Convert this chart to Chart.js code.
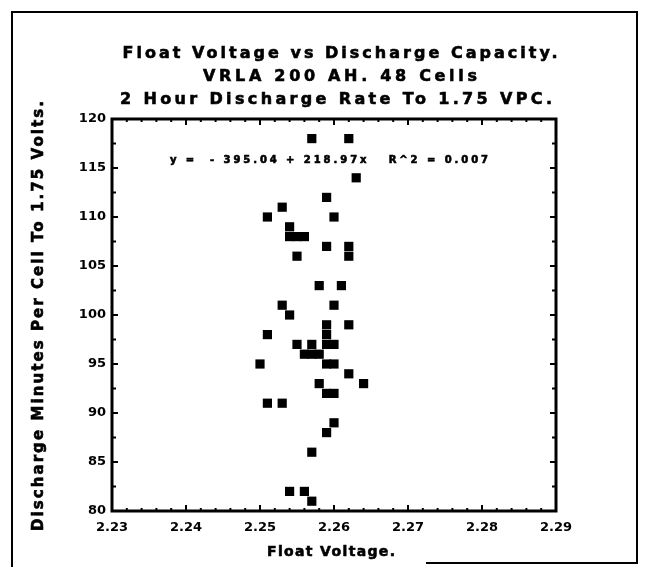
<!DOCTYPE html>
<html>
<head>
<meta charset="utf-8">
<script src="https://cdn.jsdelivr.net/npm/chart.js@4.4.1/dist/chart.umd.min.js"></script>
<style>
  html, body { margin: 0; padding: 0; background: #fff; }
  #wrap { width: 649px; height: 567px; }
</style>
</head>
<body>
<div id="wrap"><canvas id="myChart" width="649" height="567"></canvas></div>
<script>
// Dados
const floatVoltage = [
  2.257, 2.262, 2.263, 2.259, 2.253, 2.251, 2.260, 2.254, 2.254, 2.255,
  2.256, 2.259, 2.262, 2.262, 2.255, 2.258, 2.261, 2.253, 2.260, 2.254,
  2.259, 2.262, 2.251, 2.259, 2.255, 2.257, 2.259, 2.260, 2.256, 2.257,
  2.258, 2.250, 2.259, 2.260, 2.262, 2.258, 2.264, 2.259, 2.260, 2.251,
  2.253, 2.260, 2.259, 2.257, 2.254, 2.256, 2.257
];
const dischargeMinutes = [
  118, 118, 114, 112, 111, 110, 110, 109, 108, 108,
  108, 107, 107, 106, 106, 103, 103, 101, 101, 100,
  99, 99, 98, 98, 97, 97, 97, 97, 96, 96,
  96, 95, 95, 95, 94, 93, 93, 92, 92, 91,
  91, 89, 88, 86, 82, 82, 81
];
const xTickValues = [2.23, 2.24, 2.25, 2.26, 2.27, 2.28, 2.29];
const yTickValues = [80, 85, 90, 95, 100, 105, 110, 115, 120];

const titleLines = [
  'Float Voltage vs Discharge Capacity.',
  'VRLA 200 AH. 48 Cells',
  '2 Hour Discharge Rate To 1.75 VPC.'
];
const equationText = 'y =  - 395.04 + 218.97x   R^2 = 0.007';
const xAxisTitle = 'Float Voltage.';
const yAxisTitle = 'Discharge Minutes Per Cell To 1.75 Volts.';

const FONT = '"DejaVu Sans", sans-serif';

// escreve texto ajustando o espaçamento para uma largura alvo
function spacedText(ctx, text, cx, cy, size, width) {
  ctx.font = 'bold ' + size + 'px ' + FONT;
  ctx.letterSpacing = '0px';
  const w = ctx.measureText(text).width;
  const sp = (width - w) / (text.length - 1);
  ctx.letterSpacing = sp + 'px';
  ctx.textAlign = 'left';
  ctx.textBaseline = 'middle';
  ctx.lineWidth = 0.6;
  ctx.fillText(text, cx - width / 2, cy);
  ctx.strokeText(text, cx - width / 2, cy);
  ctx.letterSpacing = '0px';
}

const decorPlugin = {
  id: 'decor',
  afterDraw(chart) {
    const ctx = chart.ctx;
    const a = chart.chartArea;
    const xs = chart.scales.x, ys = chart.scales.y;
    ctx.save();
    ctx.fillStyle = '#000';
    ctx.strokeStyle = '#000';

    // moldura externa
    ctx.lineWidth = 2;
    ctx.beginPath();
    ctx.moveTo(12, 567);
    ctx.lineTo(12, 12);
    ctx.lineTo(637, 12);
    ctx.lineTo(637, 563);
    ctx.lineTo(426, 563);
    ctx.stroke();

    // caixa do gráfico
    ctx.lineWidth = 3;
    ctx.strokeRect(a.left, a.top, a.right - a.left, a.bottom - a.top);

    // marcas dos eixos (para dentro)
    ctx.lineWidth = 2;
    ctx.beginPath();
    xTickValues.forEach((v, i) => {
      const px = xs.getPixelForValue(v);
      ctx.moveTo(px, a.bottom); ctx.lineTo(px, a.bottom - 6);
      ctx.moveTo(px, a.top); ctx.lineTo(px, a.top + 6);
      if (i < xTickValues.length - 1) {
        const step = (xTickValues[i + 1] - v) / 5;
        for (let k = 1; k < 5; k++) {
          const mx = xs.getPixelForValue(v + step * k);
          ctx.moveTo(mx, a.bottom); ctx.lineTo(mx, a.bottom - 3);
          ctx.moveTo(mx, a.top); ctx.lineTo(mx, a.top + 3);
        }
      }
    });
    yTickValues.forEach((v, i) => {
      const py = ys.getPixelForValue(v);
      ctx.moveTo(a.left, py); ctx.lineTo(a.left + 6, py);
      ctx.moveTo(a.right, py); ctx.lineTo(a.right - 6, py);
      if (i < yTickValues.length - 1) {
        const my = ys.getPixelForValue((v + yTickValues[i + 1]) / 2);
        ctx.moveTo(a.left, my); ctx.lineTo(a.left + 4, my);
        ctx.moveTo(a.right, my); ctx.lineTo(a.right - 4, my);
      }
    });
    ctx.stroke();

    // títulos
    spacedText(ctx, titleLines[0], 340, 54, 16, 435);
    spacedText(ctx, titleLines[1], 340, 77, 16, 274);
    spacedText(ctx, titleLines[2], 336, 100, 16, 432);
    spacedText(ctx, equationText, 329, 160, 10, 318);
    spacedText(ctx, xAxisTitle, 331, 552, 14, 128);

    ctx.translate(39, 316);
    ctx.rotate(-Math.PI / 2);
    spacedText(ctx, yAxisTitle, 0, 0, 15, 430);
    ctx.restore();
  }
};

const ctx = document.getElementById('myChart').getContext('2d');
const myChart = new Chart(ctx, {
  type: 'scatter',
  data: {
    datasets: [{
      data: floatVoltage.map((x, i) => ({ x: x, y: dischargeMinutes[i] })),
      pointStyle: 'rect',
      pointRadius: 6.5,
      pointHoverRadius: 6.5,
      backgroundColor: '#000',
      borderColor: '#000',
      borderWidth: 0
    }]
  },
  options: {
    responsive: false,
    animation: false,
    layout: { padding: { top: 119, right: 93, bottom: 6, left: 40 } },
    plugins: {
      legend: { display: false },
      tooltip: { enabled: false },
      title: { display: false }
    },
    scales: {
      x: {
        type: 'linear',
        min: 2.23,
        max: 2.29,
        afterBuildTicks: s => { s.ticks = xTickValues.map(v => ({ value: v })); },
        afterFit: s => { s.height = 567 - 511 - 6; },
        grid: { display: false, drawTicks: false },
        border: { display: false },
        ticks: {
          padding: 9,
          color: '#000',
          font: { family: FONT, size: 13, weight: 'bold' },
          callback: v => v.toFixed(2)
        }
      },
      y: {
        min: 80,
        max: 120,
        afterBuildTicks: s => { s.ticks = yTickValues.map(v => ({ value: v })); },
        afterFit: s => { s.width = 112 - 40; },
        grid: { display: false, drawTicks: false },
        border: { display: false },
        ticks: {
          padding: 6,
          color: '#000',
          font: { family: FONT, size: 13, weight: 'bold' }
        }
      }
    }
  },
  plugins: [decorPlugin]
});
</script>
</body>
</html>
